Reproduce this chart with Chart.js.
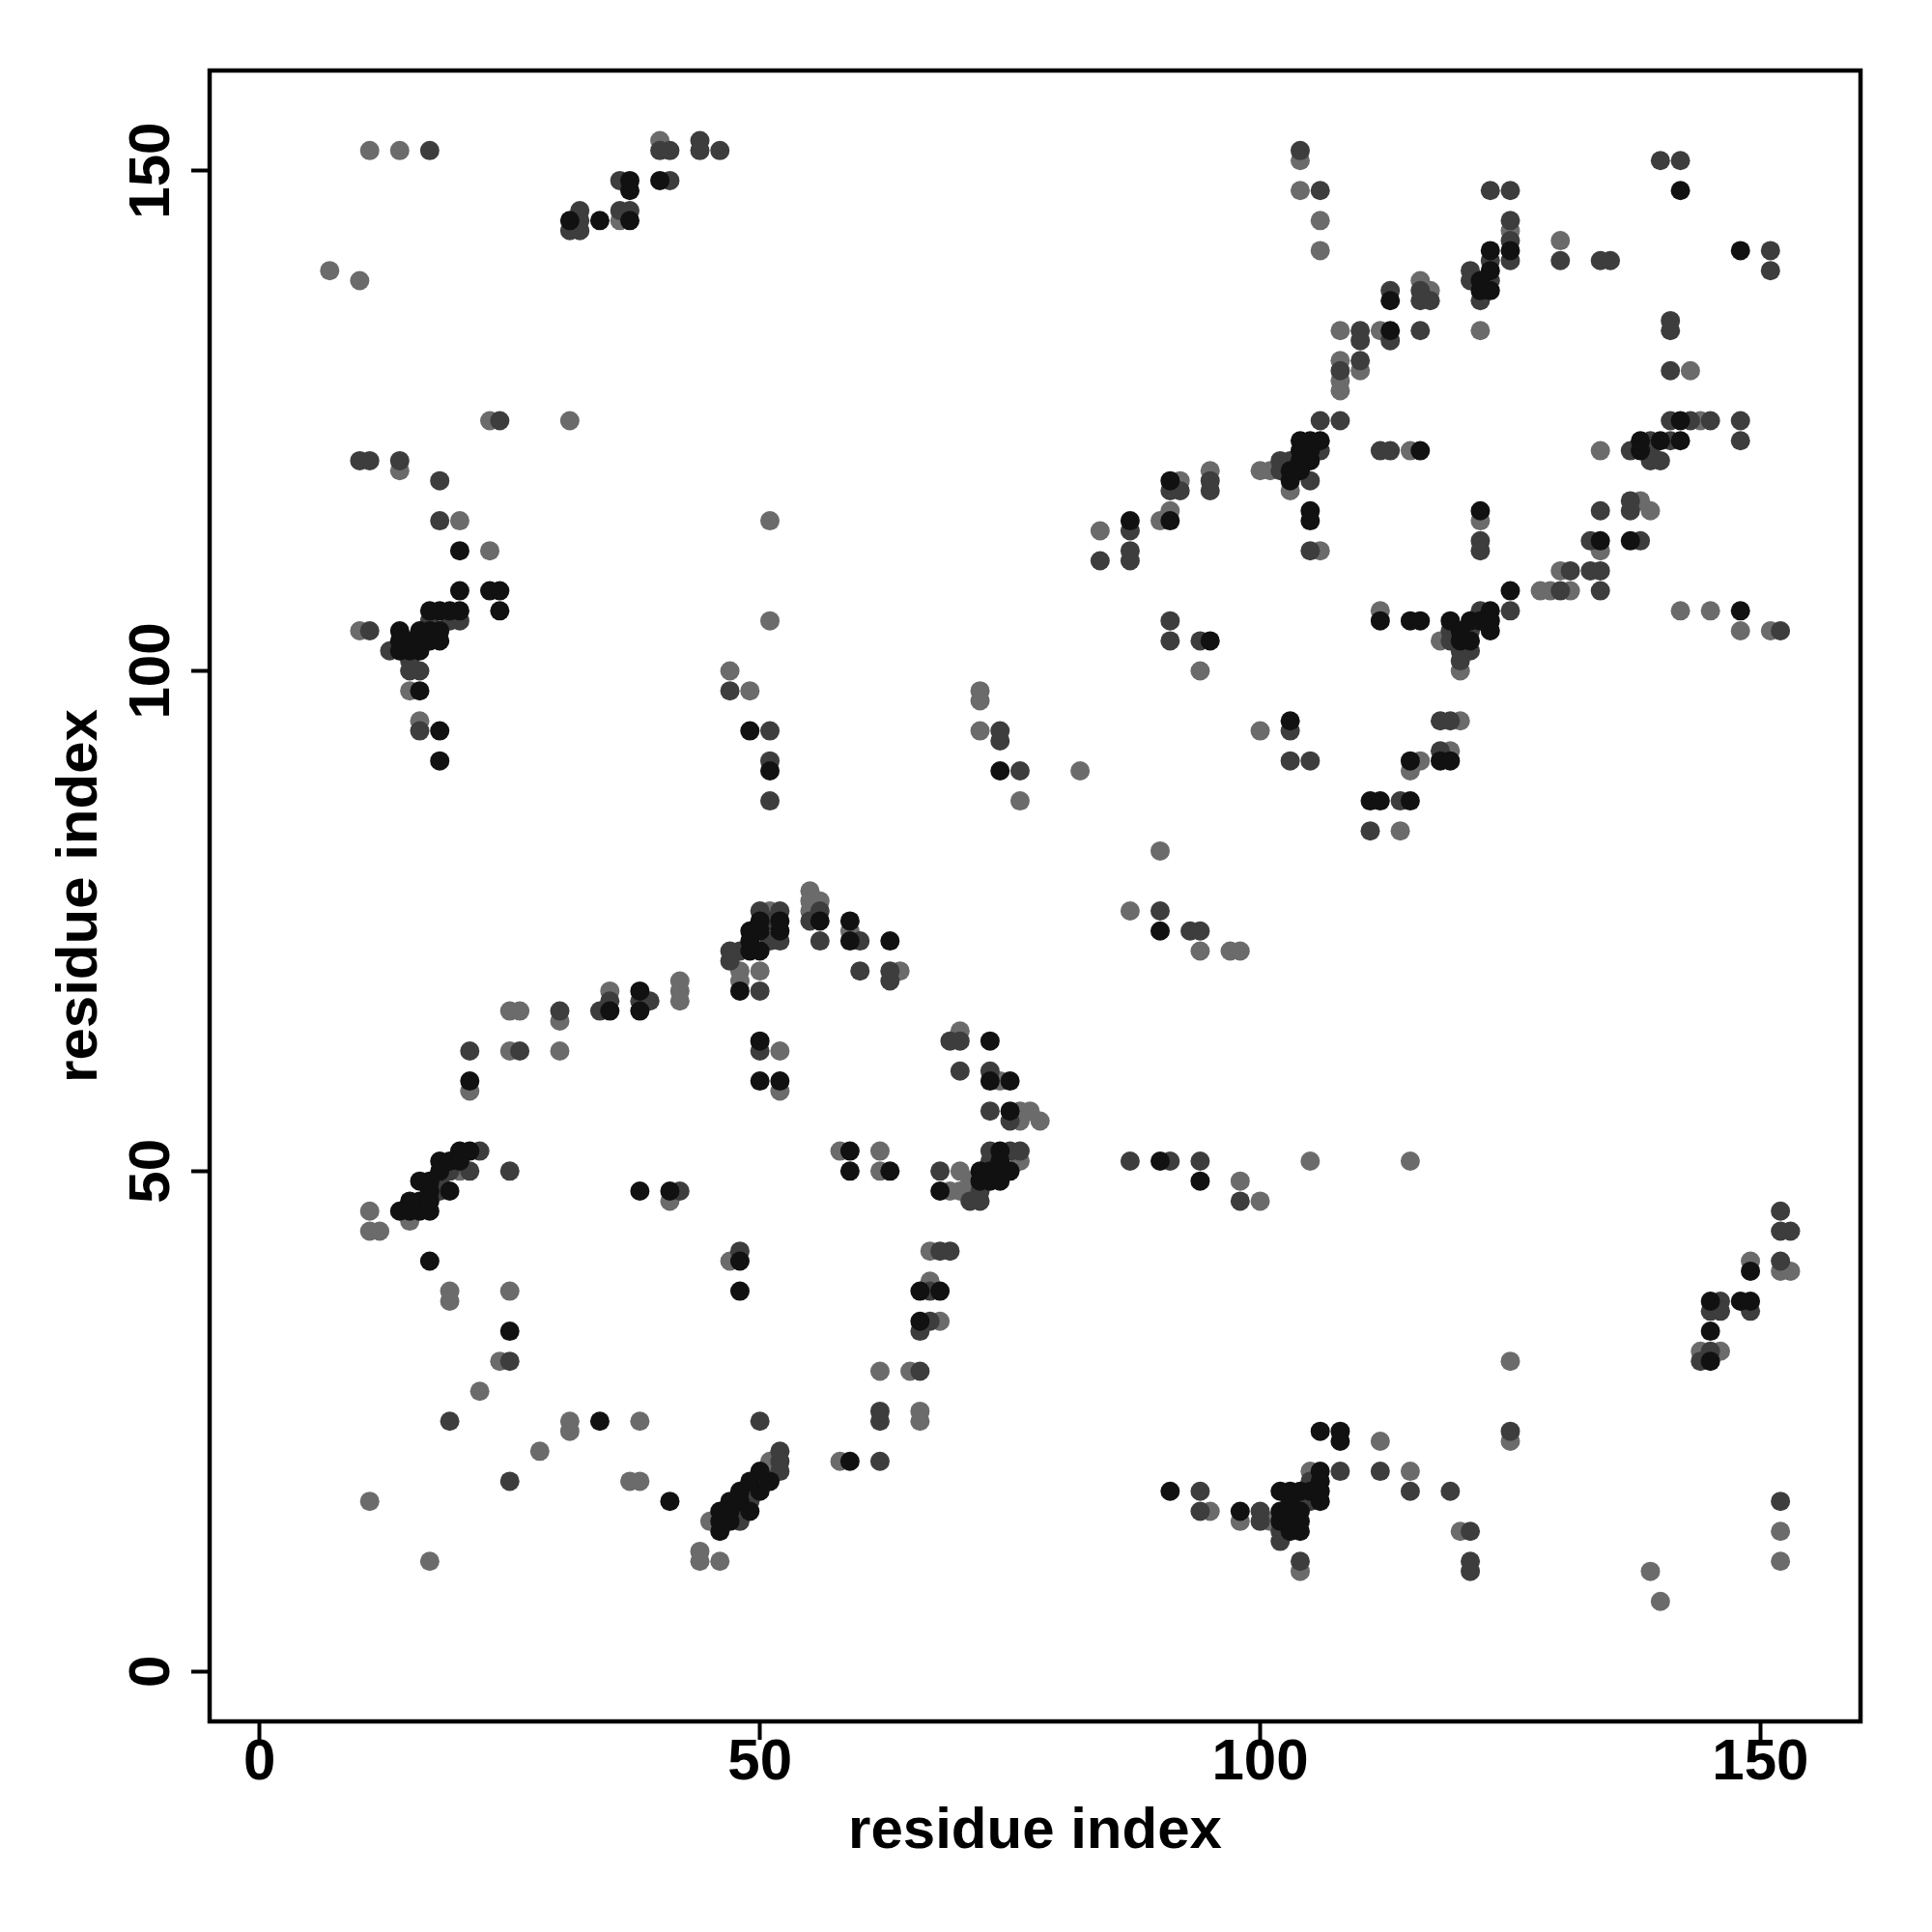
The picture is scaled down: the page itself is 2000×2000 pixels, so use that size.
<!DOCTYPE html>
<html>
<head>
<meta charset="utf-8">
<title>Contact map</title>
<script src="https://cdn.jsdelivr.net/npm/chart.js@4.4.1/dist/chart.umd.min.js"></script>
<style>
  html, body { margin: 0; padding: 0; background: #fff; }
  #wrap { width: 2000px; height: 2000px; }
</style>
</head>
<body>
<div id="wrap"><canvas id="contactMap" width="2000" height="2000"></canvas></div>
<script>
// axis settings
const tickValues = [0, 50, 100, 150];
const axisMin = -5;
const axisMax = 160;
const axisTitle = 'residue index';

// contacts, grouped by shade (i, j residue pairs)
const strongContacts = [
    [37,149],[37,148],[40,149],[31,145],[34,145],[37,145],
    [20,112],[20,108],[23,108],[24,108],
    [24,106],[20,106],[17,106],[18,106],[19,106],[14,104],[16,104],[17,104],[18,104],[18,103],
    [14,102],[15,102],[16,102],[14,103],[15,103],[16,103],[17,103],[16,98],[18,94],[18,91],
    [49,94],[51,90],
    [48,68],[49,74],[50,74],[49,72],[50,72],[49,73],[52,75],[52,74],[50,75],
    [50,63],[50,59],[52,59],
    [35,66],[38,68],[38,66],[21,59],
    [20,52],[18,50],
    [21,52],[18,51],[19,51],[19,48],[17,49],[16,49],[16,47],[15,47],[14,46],[15,46],[16,46],[17,46],[17,47],[20,51],[17,48],
    [17,41],[25,34],[34,25],[41,17],[38,48],[41,48],[48,41],[48,38],
    [46,14],[46,15],[47,15],[46,16],[47,16],[47,17],[48,17],[48,18],[50,18],[49,19],[51,19],[50,20],[49,16],
    [59,52],[59,50],[63,50],[68,48],
    [72,50],[73,50],[74,50],[72,49],[73,49],[74,49],[74,51],[75,50],[74,52],
    [94,49],[66,38],[68,38],[66,35],[59,21],[91,18],[98,16],
    [102,18],[103,18],[104,18],[103,17],[102,16],[103,16],[104,16],[102,15],[103,15],[104,15],[104,14],[105,18],[103,14],
    [106,24],[108,24],[108,23],[106,20],[106,19],[106,18],[106,17],
    [149,40],[145,37],[148,37],[149,37],[145,34],[145,31],
    [95,103],[74,90],[103,95],[90,74],
    [56,75],[59,75],[59,73],[63,73],[73,63],[73,59],[75,59],[75,56],[90,51],
    [87,115],[91,115],[91,119],
    [104,121],[105,121],[103,120],[104,120],[103,119],[104,123],[105,123],[106,123],[104,122],[105,122],
    [105,116],[105,115],[113,134],[113,137],
    [125,142],[123,142],[123,140],[123,138],[122,139],[122,138],
    [142,148],[148,142],[116,122],[122,116],
    [138,123],[138,122],[140,123],[142,123],[142,125],
    [134,113],[137,113],[125,108],
    [123,106],[123,105],[123,104],[122,105],[121,105],[119,105],[120,104],[120,103],[121,103],[115,105],[116,105],[112,105],
    [148,106],[115,91],[118,91],[119,91],[111,87],[112,87],[115,87]
];

const mediumContacts = [
    [17,152],[40,152],[41,152],[44,153],[44,152],[46,152],[36,149],[41,149],[32,146],[32,145],[31,144],[32,144],[36,146],[37,146],
    [24,125],[10,121],[11,121],[14,121],[18,119],[18,115],
    [20,105],[19,105],[17,105],[11,104],[13,102],[15,101],[15,100],[16,100],[16,94],
    [47,98],[51,94],[51,91],[51,87],
    [47,72],[48,72],[47,71],[50,68],[51,75],[51,73],[52,76],[52,73],[50,76],
    [50,62],[30,66],[34,66],[35,67],[38,67],[39,67],[21,62],[26,62],
    [22,52],[25,50],[21,50],[18,48],[18,49],[19,50],
    [25,31],[19,25],[25,19],[42,48],[48,42],[50,25],
    [48,16],[49,17],[49,18],[50,19],[52,20],[52,21],[52,22],[48,15],
    [68,50],[71,47],[72,47],
    [73,51],[75,52],[76,52],[72,48],[73,52],
    [98,47],[68,42],[69,42],[67,38],[67,35],[66,34],[66,30],[62,26],[62,25],[62,21],
    [94,18],[94,16],[100,16],[100,15],
    [104,17],[102,14],[102,13],[104,11],[105,19],[105,17],
    [125,24],[108,20],[112,20],[115,18],[119,18],[121,14],[121,11],[121,10],
    [152,17],[152,46],[152,44],[153,44],[152,41],[146,37],[145,36],[146,36],[149,36],[145,32],[144,31],
    [91,105],[91,103],[94,103],[74,94],[74,93],[76,90],[103,94],[103,91],[105,91],
    [90,76],[93,74],[94,74],
    [55,75],[56,76],[56,73],[60,73],[60,70],[63,70],[63,69],
    [69,63],[70,63],[70,60],[73,60],[73,56],[75,55],
    [87,51],[91,51],[94,51],
    [104,152],[106,148],[84,111],[87,114],[87,112],[87,111],[91,118],[92,118],[95,119],[95,118],
    [102,121],[103,121],[102,120],[105,119],[106,122],
    [105,112],[108,125],[106,125],[110,134],[110,133],[113,133],[116,134],[108,130],[110,131],
    [113,138],[116,138],[116,137],[117,137],
    [123,148],[125,148],[125,145],[125,143],[125,141],[123,141],[123,139],[121,140],[121,139],[122,137],
    [130,141],[134,141],[135,141],[140,151],[142,151],[151,142],[151,140],[141,135],[141,134],[141,130],
    [112,122],[113,122],[122,113],[122,112],
    [137,122],[139,123],[139,122],[139,121],[140,121],[141,123],[141,125],[143,125],[145,125],[148,125],[148,123],
    [134,116],[137,117],[137,116],[133,113],[138,113],[131,110],[133,110],[134,110],[130,108],[134,108],
    [125,106],[122,106],[121,104],[119,104],[119,103],[120,102],[121,102],[120,101],
    [152,104],[118,95],[119,95],[118,92],[114,87],[111,84]
];

const weakContacts = [
    [11,152],[14,152],[7,140],[10,139],[40,153],[36,145],[23,125],[31,125],[14,120],[20,115],[23,112],[10,104],[15,98],[16,95],[51,115],[51,105],
    [47,100],[49,98],[48,70],[48,69],[50,70],[51,76],[52,62],[52,58],
    [25,66],[26,66],[30,65],[35,68],[42,69],[42,68],[42,67],[25,62],[30,62],[21,58],
    [20,50],[15,45],[11,46],[11,44],[12,44],[19,38],[19,37],[25,38],[24,31],[22,28],[31,25],[31,24],[38,25],[28,22],
    [37,19],[38,19],[11,17],[17,11],[44,12],[44,11],[46,11],[41,47],[47,41],
    [45,15],[51,20],[51,21],
    [58,52],[62,52],[62,50],[70,50],[69,48],[70,48],[71,48],[76,51],[71,49],
    [98,49],[100,47],[67,42],[67,39],[68,35],[62,30],[65,30],[66,26],[66,25],[58,21],
    [95,16],[98,15],[101,15],
    [104,10],[105,20],[112,23],[125,23],[115,20],[120,14],[139,10],[140,7],[152,14],[152,11],
    [149,41],[152,40],[153,40],[144,32],[146,32],[125,31],[105,51],[115,51],
    [94,100],[72,98],[72,97],[72,94],[82,90],[76,87],[100,94],[90,82],[87,76],[94,72],[97,72],[98,72],
    [55,78],[55,77],[55,76],[56,77],[59,74],[64,70],[70,64],[74,59],[76,56],[77,56],[76,55],[78,55],
    [104,151],[104,148],[106,145],[106,142],[84,114],[90,115],[91,116],[92,119],[95,120],
    [100,120],[101,120],[103,118],[106,112],[108,134],[112,134],[122,134],[108,131],[108,129],[108,128],[110,130],
    [116,139],[117,138],[125,144],[130,143],[143,130],[115,122],[122,115],
    [134,122],[144,125],[138,117],[139,116],[134,112],[130,110],[128,108],[129,108],[131,108],
    [118,103],[120,100],[112,106],[142,106],[145,106],[148,104],[151,104],[120,95],[116,91],[115,90],[119,92],[114,84]
];

const FONT_FAMILY = '"Liberation Sans", Arial, Helvetica, sans-serif';

// turn [i, j] pairs into chart points
const toPoints = (pairs) => pairs.map(([x, y]) => ({ x, y }));

const makeDataset = (label, pairs, color, order) => ({
    label,
    data: toPoints(pairs),
    backgroundColor: color,
    pointBackgroundColor: color,
    pointBorderWidth: 0,
    pointRadius: 10,
    pointHoverRadius: 10,
    order
});

// box around the plot plus R-style tick labels
const framePlugin = {
    id: 'framePlugin',
    afterDraw(chart) {
        const { ctx, chartArea, scales } = chart;
        ctx.save();

        ctx.strokeStyle = '#000';
        ctx.lineWidth = 4.5;
        ctx.strokeRect(chartArea.left, chartArea.top,
            chartArea.right - chartArea.left, chartArea.bottom - chartArea.top);

        ctx.fillStyle = '#000';
        ctx.font = 'bold 60px ' + FONT_FAMILY;
        ctx.textAlign = 'center';
        ctx.textBaseline = 'alphabetic';

        // x labels
        scales.x.ticks.forEach(t => {
            ctx.fillText(String(t.value), scales.x.getPixelForValue(t.value), chartArea.bottom + 60);
        });

        // y labels, rotated like R's default
        scales.y.ticks.forEach(t => {
            ctx.save();
            ctx.translate(chartArea.left - 42, scales.y.getPixelForValue(t.value));
            ctx.rotate(-Math.PI / 2);
            ctx.fillText(String(t.value), 0, 0);
            ctx.restore();
        });

        ctx.restore();
    }
};

const axisOptions = (size, isX) => ({
    type: 'linear',
    min: axisMin,
    max: axisMax,
    afterBuildTicks: (scale) => {
        scale.ticks = tickValues.map(v => ({ value: v }));
    },
    afterFit: (scale) => {
        if (isX) scale.height = size; else scale.width = size;
    },
    ticks: { display: false },
    border: { display: false },
    grid: {
        display: true,
        drawOnChartArea: false,
        drawTicks: true,
        tickLength: 19,
        tickWidth: 4,
        tickColor: '#000',
        color: '#000'
    },
    title: {
        display: true,
        text: axisTitle,
        color: '#000',
        font: { family: FONT_FAMILY, size: 60, weight: 'bold' },
        padding: isX ? { top: 0, bottom: 68 } : { top: 47, bottom: 0 }
    }
});

new Chart(document.getElementById('contactMap').getContext('2d'), {
    type: 'scatter',
    data: {
        datasets: [
            makeDataset('strong', strongContacts, '#111111', 1),
            makeDataset('medium', mediumContacts, '#3d3d3d', 2),
            makeDataset('weak', weakContacts, '#6b6b6b', 3)
        ]
    },
    options: {
        responsive: false,
        animation: false,
        devicePixelRatio: 1,
        layout: { padding: { top: 73, right: 74, left: 0, bottom: 0 } },
        plugins: {
            legend: { display: false },
            tooltip: { enabled: false }
        },
        scales: {
            x: axisOptions(218, true),
            y: axisOptions(217, false)
        }
    },
    plugins: [framePlugin]
});
</script>
</body>
</html>
